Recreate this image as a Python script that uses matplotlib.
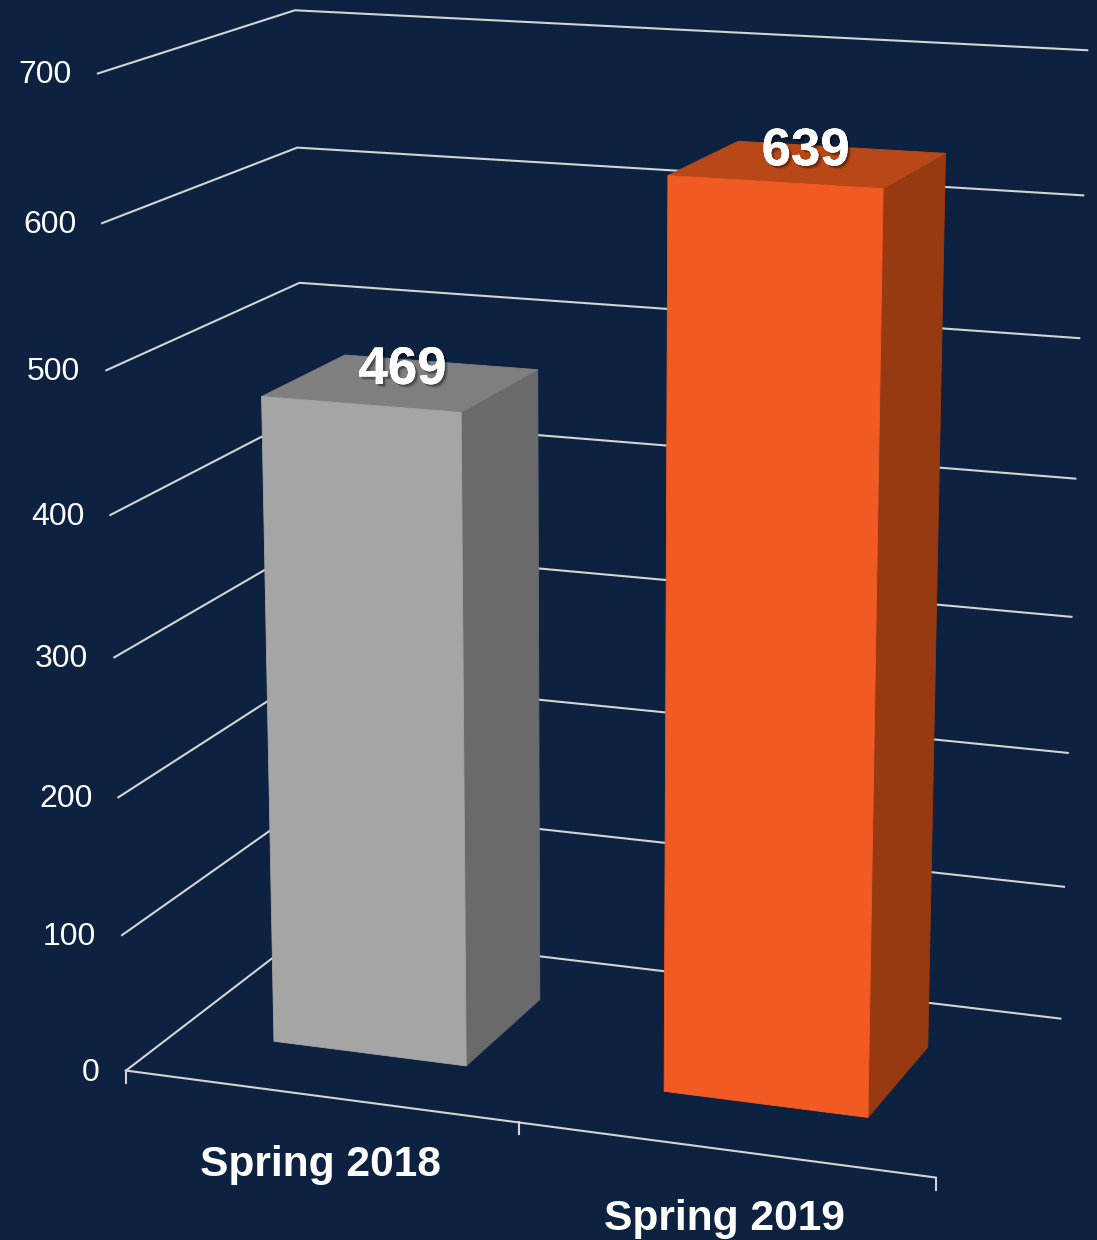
import numpy as np
import matplotlib
matplotlib.use('Agg')
import matplotlib.pyplot as plt
import matplotlib.patheffects as pe

plt.rcParams['font.family'] = ['Liberation Sans', 'DejaVu Sans']

# данные
categories = ['Spring 2018', 'Spring 2019']
values = [469, 639]
y_ticks = [0, 100, 200, 300, 400, 500, 600, 700]

bg = '#0D2240'
grid_col = '#D4D4D4'
face_cols = ['#A5A5A5', '#F15A22']
top_cols = ['#7F7F7F', '#B84818']
side_cols = ['#6A6A6A', '#973A12']

# world (x along categories, value, depth) -> pixel, fitted from the frame corners
world = np.array([[0, 0, 0], [2, 0, 0], [0, 0, 1], [2, 0, 1],
                  [0, 700, 0], [0, 700, 1], [2, 700, 1], [1, 0, 0]], float)
pix = np.array([[126, 1070], [936, 1177], [310, 929], [1060, 1019],
                [97, 74], [296, 10], [1087, 50], [519, 1123]], float)
A = []
b = []
for (X, Y, Z), (u, v) in zip(world, pix):
    A.append([X, Y, Z, 1, 0, 0, 0, 0, -u * X, -u * Y, -u * Z])
    A.append([0, 0, 0, 0, X, Y, Z, 1, -v * X, -v * Y, -v * Z])
    b += [u, v]
P = np.append(np.linalg.lstsq(np.array(A), np.array(b), rcond=None)[0], 1).reshape(3, 4)


def proj(x, y, z):
    p = P @ np.array([x, y, z, 1.0])
    return p[0] / p[2], p[1] / p[2]


fig = plt.figure(figsize=(10.97, 12.40), dpi=100, facecolor=bg)
ax = fig.add_axes([0, 0, 1, 1])
ax.set_xlim(0, 1097)
ax.set_ylim(1240, 0)
ax.axis('off')

# сетка
for t in y_ticks:
    a, b_, c = proj(0, t, 0), proj(0, t, 1), proj(2, t, 1)
    ax.plot([a[0], b_[0], c[0]], [a[1], b_[1], c[1]], color=grid_col, lw=1.5, zorder=1)
    ax.text(a[0] - 26, a[1] + 2, str(t), color='white', fontsize=23, ha='right', va='center')

# ось x
f0, f1 = proj(0, 0, 0), proj(2, 0, 0)
ax.plot([f0[0], f1[0]], [f0[1], f1[1]], color=grid_col, lw=1.5, zorder=1)
for i in range(3):
    p = proj(i, 0, 0)
    ax.plot([p[0], p[0]], [p[1], p[1] + 12], color=grid_col, lw=1.5, zorder=1)

# столбцы
x_edges = [(0.25, 0.75), (1.25, 1.75)]
depth = (0.275, 0.725)
label_pos = [(320, 1165), (724, 1219)]
value_dx = [1, -3]
shadow = [pe.withSimplePatchShadow(offset=(2.5, -2.5), shadow_rgbFace='black', alpha=0.15),
          pe.withSimplePatchShadow(offset=(1.5, -1.5), shadow_rgbFace='black', alpha=0.3)]
for i, val in enumerate(values):
    x0, x1 = x_edges[i]
    d0, d1 = depth
    front = [proj(x0, 0, d0), proj(x1, 0, d0), proj(x1, val, d0), proj(x0, val, d0)]
    top = [proj(x0, val, d0), proj(x1, val, d0), proj(x1, val, d1), proj(x0, val, d1)]
    side = [proj(x1, 0, d0), proj(x1, 0, d1), proj(x1, val, d1), proj(x1, val, d0)]
    ax.fill(*zip(*side), facecolor=side_cols[i], edgecolor=side_cols[i], lw=0.6, zorder=2)
    ax.fill(*zip(*top), facecolor=top_cols[i], edgecolor=top_cols[i], lw=0.6, zorder=2)
    ax.fill(*zip(*front), facecolor=face_cols[i], edgecolor=face_cols[i], lw=0.6, zorder=3)
    c = proj((x0 + x1) / 2, val, (d0 + d1) / 2)
    ax.text(c[0] + value_dx[i], c[1] - 13, str(val), color='white', fontsize=38, fontweight='bold',
            ha='center', va='center', zorder=5, path_effects=shadow + [pe.Normal()])
    ax.text(label_pos[i][0], label_pos[i][1], categories[i], color='white', fontsize=30.6,
            fontweight='bold', ha='center', va='center')

fig.savefig('out.png', dpi=100, facecolor=bg)
